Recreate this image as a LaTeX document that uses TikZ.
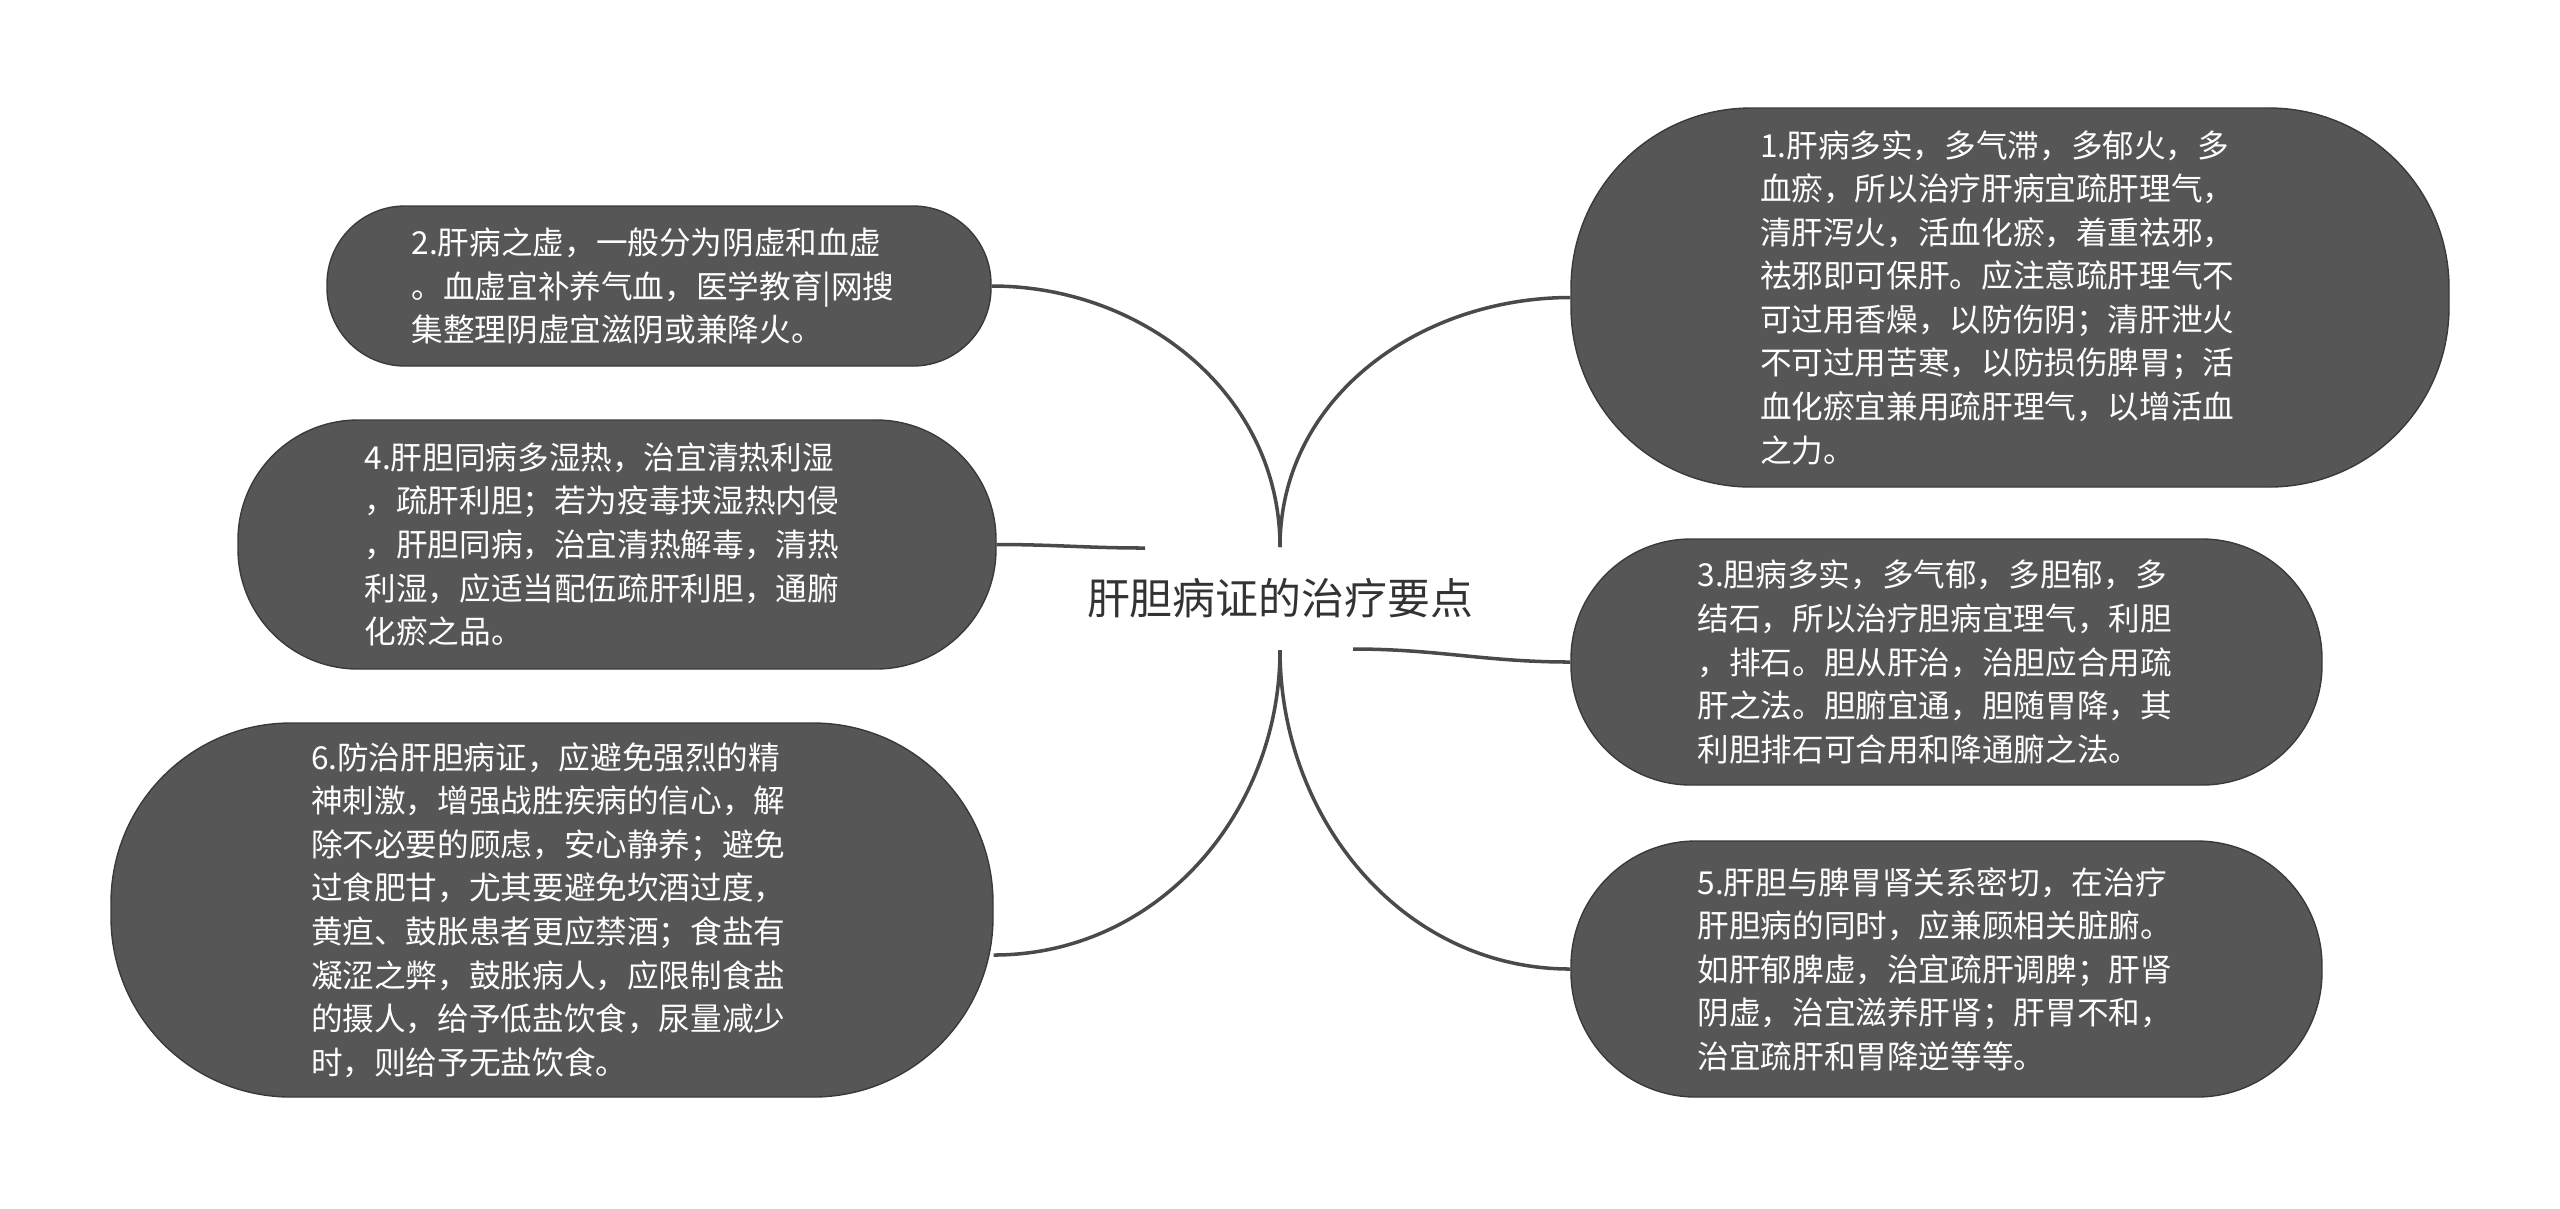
\documentclass[tikz,border=0pt]{standalone}
\usepackage{fontspec}
\newfontfamily\cjk{Noto Sans CJK SC}
\definecolor{leafgray}{HTML}{565656}
\definecolor{leafline}{HTML}{3A3A3A}
\definecolor{linkgray}{HTML}{4A4A4A}
\definecolor{titlegray}{HTML}{333333}

\begin{document}
\begin{tikzpicture}[thick,
  leaf/.style={draw=leafline,line width=0.4pt,fill=leafgray,text=white,align=left,
    inner sep=0pt,font=\cjk\fontsize{9}{12.4}\selectfont},
  link/.style={draw=linkgray,line width=1pt}]
  \useasboundingbox (0,0) rectangle (25.6,-12.08);
  % centre topic and the points where the branches meet it
  \node[text=titlegray,font=\cjk\fontsize{12.2}{14}\selectfont] (main) at (12.80,-5.98) {肝胆病证的治疗要点};
  \coordinate (up) at (12.80,-5.47);
  \coordinate (dn) at (12.80,-6.50);
  \coordinate (lf) at (11.45,-5.48);
  \coordinate (rt) at (13.53,-6.49);
  % right side
  \node[leaf,text width=5.00cm,minimum width=8.78cm,minimum height=3.79cm,rounded corners=1.8cm] (p1) at (20.10,-2.975)
    {1.肝病多实，多气滞，多郁火，多\\血瘀，所以治疗肝病宜疏肝理气，\\清肝泻火，活血化瘀，着重祛邪，\\祛邪即可保肝。应注意疏肝理气不\\可过用香燥，以防伤阴；清肝泄火\\不可过用苦寒，以防损伤脾胃；活\\血化瘀宜兼用疏肝理气，以增活血\\之力。};
  \node[leaf,text width=4.98cm,minimum width=7.51cm,minimum height=2.46cm,rounded corners=1.2cm] (p3) at (19.465,-6.62)
    {3.胆病多实，多气郁，多胆郁，多\\结石，所以治疗胆病宜理气，利胆\\，排石。胆从肝治，治胆应合用疏\\肝之法。胆腑宜通，胆随胃降，其\\利胆排石可合用和降通腑之法。};
  \node[leaf,text width=4.98cm,minimum width=7.51cm,minimum height=2.56cm,rounded corners=1.25cm] (p5) at (19.465,-9.69)
    {5.肝胆与脾胃肾关系密切，在治疗\\肝胆病的同时，应兼顾相关脏腑。\\如肝郁脾虚，治宜疏肝调脾；肝肾\\阴虚，治宜滋养肝肾；肝胃不和，\\治宜疏肝和胃降逆等等。};
  % left side
  \node[leaf,text width=4.95cm,minimum width=6.64cm,minimum height=1.60cm,rounded corners=0.78cm] (p2) at (6.59,-2.86)
    {2.肝病之虚，一般分为阴虚和血虚\\。血虚宜补养气血，医学教育|网搜\\集整理阴虚宜滋阴或兼降火。};
  \node[leaf,text width=5.05cm,minimum width=7.58cm,minimum height=2.49cm,rounded corners=1.2cm] (p4) at (6.17,-5.445)
    {4.肝胆同病多湿热，治宜清热利湿\\，疏肝利胆；若为疫毒挟湿热内侵\\，肝胆同病，治宜清热解毒，清热\\利湿，应适当配伍疏肝利胆，通腑\\化瘀之品。};
  \node[leaf,text width=4.82cm,minimum width=8.82cm,minimum height=3.74cm,rounded corners=1.8cm] (p6) at (5.52,-9.10)
    {6.防治肝胆病证，应避免强烈的精\\神刺激，增强战胜疾病的信心，解\\除不必要的顾虑，安心静养；避免\\过食肥甘，尤其要避免坎酒过度，\\黄疸、鼓胀患者更应禁酒；食盐有\\凝涩之弊，鼓胀病人，应限制食盐\\的摄人，给予低盐饮食，尿量减少\\时，则给予无盐饮食。};
  \path[link] (up) edge[out=90,in=0] (p2.east)
    (up) edge[out=90,in=180] (p1.west)
    (lf) edge[out=180,in=0] (p4.east)
    (rt) edge[out=0,in=180] (p3.west)
    (dn) edge[out=-90,in=0] ([yshift=-0.45cm]p6.east)
    (dn) edge[out=-90,in=180] (p5.west);
\end{tikzpicture}
\end{document}
